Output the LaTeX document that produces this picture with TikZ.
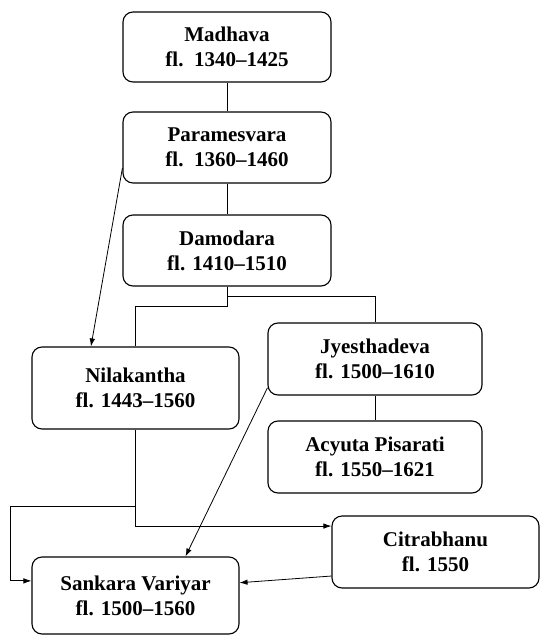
\documentclass[tikz,border=0pt]{standalone}
\usepackage{fontspec}
\setmainfont{Liberation Serif}
\usetikzlibrary{arrows.meta}

\begin{document}
\begin{tikzpicture}[x=1pt, y=-1pt, >={Latex[length=8pt, width=5.5pt]},
	scholar/.style={draw, rounded corners=10pt, line width=1.1pt, align=center, inner sep=0pt, font=\rmfamily\bfseries\fontsize{21}{25}\selectfont},
	link/.style={line width=0.8pt}]
	\useasboundingbox (0,0) rectangle (541,636);
	\node[scholar, minimum width=208pt, minimum height=70pt] (mad) at (227,47) {Madhava\\fl.\enspace 1340--1425};
	\node[scholar, minimum width=208pt, minimum height=71pt] (par) at (227,147.5) {Paramesvara\\fl.\enspace 1360--1460};
	\node[scholar, minimum width=208pt, minimum height=71pt] (dam) at (227,250.5) {Damodara\\fl. 1410--1510};
	\node[scholar, minimum width=207pt, minimum height=82pt] (nil) at (135.5,388) {Nilakantha\\fl. 1443--1560};
	\node[scholar, minimum width=214pt, minimum height=72pt] (jye) at (375,359) {Jyesthadeva\\fl. 1500--1610};
	\node[scholar, minimum width=214pt, minimum height=72pt] (acy) at (375,457) {Acyuta Pisarati\\fl. 1550--1621};
	\node[scholar, minimum width=207pt, minimum height=72pt] (cit) at (435.5,552) {Citrabhanu\\fl. 1550};
	\node[scholar, minimum width=207pt, minimum height=77pt] (san) at (135.5,595.5) {Sankara Variyar\\fl. 1500--1560};

	\draw[link] (mad) -- (par);
	\draw[link] (par) -- (dam);
	\draw[link] (dam.south) -- ++(0,20) -| (nil.north);
	\draw[link] (dam.south) -- ++(0,10) -| (jye.north);
	\draw[link] (jye) -- (acy);
	\draw[link, ->] (par.191) -- (nil.137);
	\draw[link, ->] (nil.south) |- (cit.166);
	\draw[link, ->] (nil.south) -- ++(0,77) -- ++(-125.5,0) |- (san.172);
	\draw[link, ->] (jye.195) -- (san.38);
	\draw[link, ->] (cit.193) -- (san.7);
\end{tikzpicture}
\end{document}
